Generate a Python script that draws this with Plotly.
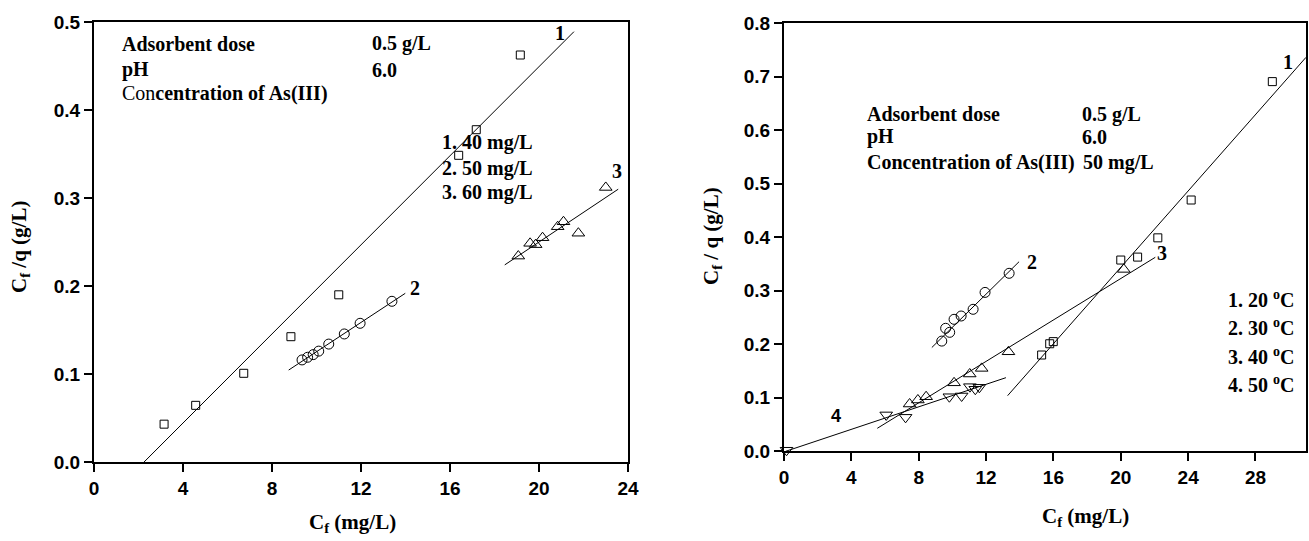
import plotly.graph_objects as go

W, H = 1309, 541

# ---------------- Left panel data (effect of initial concentration) ----------------
L1_x = [3.15, 4.57, 6.73, 8.85, 11.0, 16.39, 17.18, 19.16]
L1_y = [0.043, 0.0644, 0.1008, 0.1424, 0.190, 0.3485, 0.3776, 0.4625]
L2_x = [9.35, 9.6, 9.85, 10.1, 10.55, 11.25, 11.96, 13.39]
L2_y = [0.116, 0.119, 0.122, 0.126, 0.134, 0.1455, 0.1576, 0.1826]
L3_x = [19.07, 19.6, 19.85, 20.16, 20.84, 21.1, 21.77, 23.0]
L3_y = [0.234, 0.2485, 0.247, 0.2549, 0.2674, 0.273, 0.260, 0.312]
L1_fit_x, L1_fit_y = [2.25, 21.57], [0.0, 0.489]
L2_fit_x, L2_fit_y = [8.75, 13.99], [0.1045, 0.1917]
L3_fit_x, L3_fit_y = [18.46, 23.56], [0.224, 0.310]

# ---------------- Right panel data (effect of temperature) ----------------
R1_x = [15.3, 15.78, 15.99, 20.0, 21.0, 22.2, 24.18, 29.0]
R1_y = [0.180, 0.201, 0.205, 0.3575, 0.363, 0.399, 0.4697, 0.691]
R2_x = [9.37, 9.6, 9.84, 10.1, 10.52, 11.23, 11.94, 13.37]
R2_y = [0.206, 0.2299, 0.2224, 0.2467, 0.2529, 0.2654, 0.297, 0.3327]
R3_x = [7.46, 7.95, 8.44, 10.1, 11.03, 11.74, 13.33, 20.18]
R3_y = [0.0884, 0.0959, 0.102, 0.128, 0.1445, 0.155, 0.186, 0.340]
R4_x = [0.15, 6.07, 7.22, 9.82, 10.55, 11.04, 11.36, 11.6]
R4_y = [0.002, 0.068, 0.0635, 0.102, 0.1034, 0.1208, 0.116, 0.1196]
R1_fit_x, R1_fit_y = [13.28, 31.0], [0.104, 0.7364]
R2_fit_x, R2_fit_y = [8.78, 13.96], [0.194, 0.3544]
R3_fit_x, R3_fit_y = [5.54, 22.05], [0.043, 0.3626]
R4_fit_x, R4_fit_y = [0.1, 13.18], [0.0, 0.1376]

x_ticks_left = [0, 4, 8, 12, 16, 20, 24]
y_ticks_left = [0.0, 0.1, 0.2, 0.3, 0.4, 0.5]
x_ticks_right = [0, 4, 8, 12, 16, 20, 24, 28]
y_ticks_right = [0.0, 0.1, 0.2, 0.3, 0.4, 0.5, 0.6, 0.7, 0.8]

SERIF = "Liberation Serif, Times New Roman, serif"
SANS = "Liberation Sans, Arial, sans-serif"

fig = go.Figure()

def pts(x, y, sym, size, xa, ya):
    fig.add_trace(go.Scatter(
        x=x, y=y, mode="markers", xaxis=xa, yaxis=ya, showlegend=False,
        marker=dict(symbol=sym, size=size, color="black",
                    line=dict(color="black", width=1)),
        cliponaxis=False))

def fit(x, y, xa, ya):
    fig.add_trace(go.Scatter(
        x=x, y=y, mode="lines", xaxis=xa, yaxis=ya, showlegend=False,
        line=dict(color="black", width=1)))

# left
fit(L1_fit_x, L1_fit_y, "x", "y")
fit(L2_fit_x, L2_fit_y, "x", "y")
fit(L3_fit_x, L3_fit_y, "x", "y")
pts(L1_x, L1_y, "square-open", 8, "x", "y")
pts(L2_x, L2_y, "circle-open", 10, "x", "y")
pts(L3_x, L3_y, "triangle-up-open", 11, "x", "y")

# right
fit(R1_fit_x, R1_fit_y, "x2", "y2")
fit(R2_fit_x, R2_fit_y, "x2", "y2")
fit(R3_fit_x, R3_fit_y, "x2", "y2")
fit(R4_fit_x, R4_fit_y, "x2", "y2")
pts(R1_x, R1_y, "square-open", 8, "x2", "y2")
pts(R2_x, R2_y, "circle-open", 10, "x2", "y2")
pts(R3_x, R3_y, "triangle-up-open", 11, "x2", "y2")
pts(R4_x, R4_y, "triangle-down-open", 11, "x2", "y2")

axis_common = dict(
    showline=True, linewidth=2, linecolor="black", mirror=True,
    ticks="outside", ticklen=8, tickwidth=2, tickcolor="black",
    showgrid=False, zeroline=False, automargin=False,
    tickfont=dict(family=SANS, size=19, color="black", weight="bold"),
)

fig.update_layout(
    width=W, height=H,
    margin=dict(l=0, r=0, t=0, b=0, autoexpand=False),
    paper_bgcolor="white", plot_bgcolor="white",
    xaxis=dict(domain=[94 / W, 628 / W], range=[0, 24], tickvals=x_ticks_left,
               anchor="y", **axis_common),
    yaxis=dict(domain=[1 - 462 / H, 1 - 22 / H], range=[0, 0.5], tickvals=y_ticks_left,
               tickformat=".1f", anchor="x", **axis_common),
    xaxis2=dict(domain=[784 / W, 1306 / W], range=[0, 31], tickvals=x_ticks_right,
                anchor="y2", **axis_common),
    yaxis2=dict(domain=[1 - 451.3 / H, 1 - 23.3 / H], range=[0, 0.8], tickvals=y_ticks_right,
                tickformat=".1f", anchor="x2", **axis_common),
)

ann = []

def txt(t, x, y, xref, yref, size=20, xanchor="left", bold=True, angle=0, family=SERIF):
    ann.append(dict(text=t, x=x, y=y, xref=xref, yref=yref, showarrow=False,
                    xanchor=xanchor, yanchor="middle", textangle=angle,
                    font=dict(family=family, size=size, color="black",
                              weight="bold" if bold else "normal")))

# left panel texts
txt("Adsorbent dose", 1.17, 0.475, "x", "y")
txt("pH", 1.17, 0.4455, "x", "y")
txt("Con<b>centration of As(III)</b>", 1.17, 0.419, "x", "y", bold=False)
txt("0.5 g/L", 12.4, 0.475, "x", "y")
txt("6.0", 12.4, 0.4455, "x", "y")
txt("1. 40 mg/L", 15.55, 0.3625, "x", "y")
txt("2. 50 mg/L", 15.55, 0.334, "x", "y")
txt("3. 60 mg/L", 15.55, 0.3057, "x", "y")
txt("1", 20.94, 0.487, "x", "y", xanchor="center")
txt("2", 14.43, 0.198, "x", "y", xanchor="center")
txt("3", 23.49, 0.331, "x", "y", xanchor="center")

# right panel texts
txt("Adsorbent dose", 4.79, 0.630, "x2", "y2")
txt("pH", 4.79, 0.5875, "x2", "y2")
txt("Concentration of As(III)", 4.79, 0.539, "x2", "y2")
txt("0.5 g/L", 17.6, 0.630, "x2", "y2")
txt("6.0", 17.6, 0.5875, "x2", "y2")
txt("50 mg/L", 17.65, 0.539, "x2", "y2")
txt("1. 20 <sup>o</sup>C", 26.23, 0.285, "x2", "y2")
txt("2. 30 <sup>o</sup>C", 26.23, 0.233, "x2", "y2")
txt("3. 40 <sup>o</sup>C", 26.23, 0.1787, "x2", "y2")
txt("4. 50 <sup>o</sup>C", 26.23, 0.1258, "x2", "y2")
txt("1", 29.94, 0.728, "x2", "y2", xanchor="center")
txt("2", 14.73, 0.354, "x2", "y2", xanchor="center")
txt("3", 22.44, 0.370, "x2", "y2", xanchor="center")
txt("4", 3.06, 0.066, "x2", "y2", xanchor="center", size=18, family=SANS)

# axis titles
txt("C<sub>f</sub> (mg/L)", 352 / W, 1 - 523 / H, "paper", "paper", size=21, xanchor="center")
txt("C<sub>f</sub> /q (g/L)", 20 / W, 1 - 247 / H, "paper", "paper", size=21, xanchor="center", angle=-90)
txt("C<sub>f</sub> (mg/L)", 1085 / W, 1 - 517 / H, "paper", "paper", size=21, xanchor="center")
txt("C<sub>f</sub> / q (g/L)", 712 / W, 1 - 236 / H, "paper", "paper", size=21, xanchor="center", angle=-90)

fig.update_layout(annotations=ann)
fig.write_html("out.html", config={"displayModeBar": False},
               post_script="document.body.style.margin='0';document.body.style.overflow='hidden';")
